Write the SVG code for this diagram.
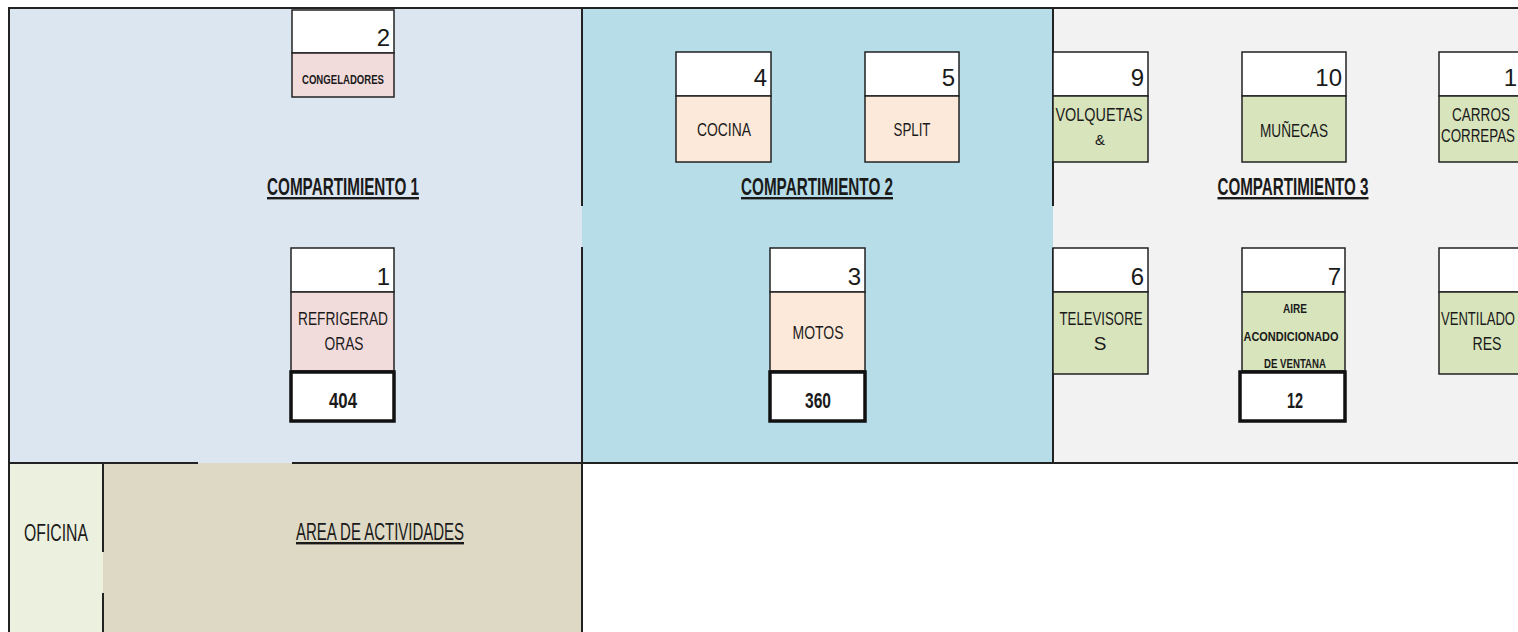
<svg xmlns="http://www.w3.org/2000/svg" width="1518" height="632" viewBox="0 0 1518 632">
<style>
.wall{stroke:#222;stroke-width:2;fill:none}
.cell{stroke:#222;stroke-width:1.5}
.white{fill:#fff}
.pink{fill:#F2DCDB}
.peach{fill:#FDE9D9}
.green{fill:#D8E4BC}
.numbox{fill:#fff;stroke:#111;stroke-width:3.5}
.num{font-family:"Liberation Sans Narrow","Liberation Sans",Arial,sans-serif;font-size:24px;fill:#1a1a1a;text-anchor:end}
.lbl{font-family:"Liberation Sans Narrow","Liberation Sans",Arial,sans-serif;font-size:19px;fill:#1a1a1a;text-anchor:middle}
.small{font-family:"Liberation Sans Narrow","Liberation Sans",Arial,sans-serif;font-size:12px;font-weight:bold;fill:#1a1a1a;text-anchor:middle}
.total{font-family:"Liberation Sans Narrow","Liberation Sans",Arial,sans-serif;font-size:22px;font-weight:bold;fill:#1a1a1a;text-anchor:middle}
.comp{font-family:"Liberation Sans Narrow","Liberation Sans",Arial,sans-serif;font-size:24px;font-weight:bold;fill:#1a1a1a;text-anchor:middle;text-decoration:underline}
.room{font-family:"Liberation Sans Narrow","Liberation Sans",Arial,sans-serif;font-size:24px;fill:#1a1a1a;text-anchor:middle}
.areatxt{font-family:"Liberation Sans Narrow","Liberation Sans",Arial,sans-serif;font-size:24px;fill:#1a1a1a;text-anchor:middle;text-decoration:underline}
</style>
<rect x="0" y="0" width="1518" height="632" fill="#fff"/>
<g id="areas">
<rect x="9" y="9" width="573" height="454" fill="#DCE6F1"/>
<rect x="582" y="9" width="471" height="454" fill="#B7DEE8"/>
<rect x="1053" y="9" width="465" height="454" fill="#F2F2F2"/>
<rect x="9" y="463" width="94" height="169" fill="#EBF1DE"/>
<rect x="103" y="463" width="479" height="169" fill="#DDD9C4"/>
</g>
<g id="walls">
<line class="wall" x1="8" y1="8" x2="1518" y2="8"/>
<line class="wall" x1="9" y1="8" x2="9" y2="632"/>
<line class="wall" x1="582" y1="8" x2="582" y2="206"/>
<line class="wall" x1="582" y1="247" x2="582" y2="632"/>
<line class="wall" x1="1053" y1="8" x2="1053" y2="206"/>
<line class="wall" x1="1053" y1="248" x2="1053" y2="463"/>
<line class="wall" x1="8" y1="463" x2="198" y2="463"/>
<line class="wall" x1="292" y1="463" x2="1518" y2="463"/>
<line class="wall" x1="103" y1="463" x2="103" y2="552"/>
<line class="wall" x1="103" y1="593" x2="103" y2="632"/>
</g>
<g id="label-comp1"><text class="comp" x="343" y="195" textLength="152" lengthAdjust="spacingAndGlyphs">COMPARTIMIENTO 1</text></g>
<g id="label-comp2"><text class="comp" x="817" y="195" textLength="152" lengthAdjust="spacingAndGlyphs">COMPARTIMIENTO 2</text></g>
<g id="label-comp3"><text class="comp" x="1293" y="195" textLength="151" lengthAdjust="spacingAndGlyphs">COMPARTIMIENTO 3</text></g>
<g id="oficina"><text class="room" x="56" y="541" textLength="64" lengthAdjust="spacingAndGlyphs">OFICINA</text></g>
<g id="area-actividades"><text class="areatxt" x="380" y="540" textLength="168" lengthAdjust="spacingAndGlyphs">AREA DE ACTIVIDADES</text></g>

<g id="box-2">
<rect class="cell white" x="292" y="10" width="102" height="43"/>
<rect class="cell pink" x="292" y="53" width="102" height="44"/>
<text class="num" x="390" y="46">2</text>
<text class="small" x="343" y="84" textLength="82" lengthAdjust="spacingAndGlyphs">CONGELADORES</text>
</g>
<g id="box-4">
<rect class="cell white" x="676" y="52" width="95" height="44"/>
<rect class="cell peach" x="676" y="96" width="95" height="66"/>
<text class="num" x="767" y="86">4</text>
<text class="lbl" x="724" y="136" textLength="54" lengthAdjust="spacingAndGlyphs">COCINA</text>
</g>
<g id="box-5">
<rect class="cell white" x="865" y="52" width="94" height="44"/>
<rect class="cell peach" x="865" y="96" width="94" height="66"/>
<text class="num" x="955" y="86">5</text>
<text class="lbl" x="912" y="136" textLength="37" lengthAdjust="spacingAndGlyphs">SPLIT</text>
</g>
<g id="box-9">
<rect class="cell white" x="1053" y="52" width="95" height="44"/>
<rect class="cell green" x="1053" y="96" width="95" height="66"/>
<text class="num" x="1144" y="86">9</text>
<text class="lbl" x="1099" y="121" textLength="87" lengthAdjust="spacingAndGlyphs">VOLQUETAS</text>
<text class="lbl" x="1100" y="145" style="font-size:15px">&amp;</text>
</g>
<g id="box-10">
<rect class="cell white" x="1242" y="52" width="104" height="44"/>
<rect class="cell green" x="1242" y="96" width="104" height="66"/>
<text class="num" x="1342" y="86">10</text>
<text class="lbl" x="1294" y="137" textLength="68" lengthAdjust="spacingAndGlyphs">MUÑECAS</text>
</g>
<g id="box-11">
<rect class="cell white" x="1439" y="52" width="80" height="44"/>
<rect class="cell green" x="1439" y="96" width="80" height="66"/>
<text class="num" x="1517" y="86">1</text>
<text class="lbl" x="1481" y="121" textLength="58" lengthAdjust="spacingAndGlyphs">CARROS</text>
<text class="lbl" style="text-anchor:start" x="1441" y="142" textLength="74" lengthAdjust="spacingAndGlyphs">CORREPAS</text>
</g>
<g id="box-1">
<rect class="cell white" x="291" y="248" width="103" height="44"/>
<rect class="cell pink" x="291" y="292" width="103" height="79"/>
<text class="num" x="390" y="285">1</text>
<text class="lbl" x="343" y="325" textLength="90" lengthAdjust="spacingAndGlyphs">REFRIGERAD</text>
<text class="lbl" x="344" y="350" textLength="39" lengthAdjust="spacingAndGlyphs">ORAS</text>
<rect class="numbox" x="291" y="372" width="103" height="49"/>
<text class="total" x="343" y="408" textLength="28" lengthAdjust="spacingAndGlyphs">404</text>
</g>
<g id="box-3">
<rect class="cell white" x="770" y="248" width="95" height="44"/>
<rect class="cell peach" x="770" y="292" width="95" height="79"/>
<text class="num" x="861" y="285">3</text>
<text class="lbl" x="818" y="339" textLength="51" lengthAdjust="spacingAndGlyphs">MOTOS</text>
<rect class="numbox" x="770" y="372" width="95" height="49"/>
<text class="total" x="818" y="408" textLength="26" lengthAdjust="spacingAndGlyphs">360</text>
</g>
<g id="box-6">
<rect class="cell white" x="1053" y="248" width="95" height="44"/>
<rect class="cell green" x="1053" y="292" width="95" height="82"/>
<text class="num" x="1144" y="285">6</text>
<text class="lbl" x="1101" y="325" textLength="83" lengthAdjust="spacingAndGlyphs">TELEVISORE</text>
<text class="lbl" x="1100" y="350">S</text>
</g>
<g id="box-7">
<rect class="cell white" x="1242" y="248" width="103" height="44"/>
<rect class="cell green" x="1242" y="292" width="103" height="79"/>
<text class="num" x="1341" y="285">7</text>
<text class="small" x="1295" y="313" textLength="24" lengthAdjust="spacingAndGlyphs">AIRE</text>
<text class="small" x="1291" y="341" textLength="95" lengthAdjust="spacingAndGlyphs">ACONDICIONADO</text>
<text class="small" x="1295" y="368" textLength="62" lengthAdjust="spacingAndGlyphs">DE VENTANA</text>
<rect class="numbox" x="1240" y="372" width="105" height="49"/>
<text class="total" x="1295" y="408" textLength="16" lengthAdjust="spacingAndGlyphs">12</text>
</g>
<g id="box-8">
<rect class="cell white" x="1439" y="248" width="80" height="44"/>
<rect class="cell green" x="1439" y="292" width="80" height="82"/>
<text class="lbl" style="text-anchor:start" x="1441" y="325" textLength="74" lengthAdjust="spacingAndGlyphs">VENTILADO</text>
<text class="lbl" x="1487" y="350" textLength="29" lengthAdjust="spacingAndGlyphs">RES</text>
</g>
</svg>
